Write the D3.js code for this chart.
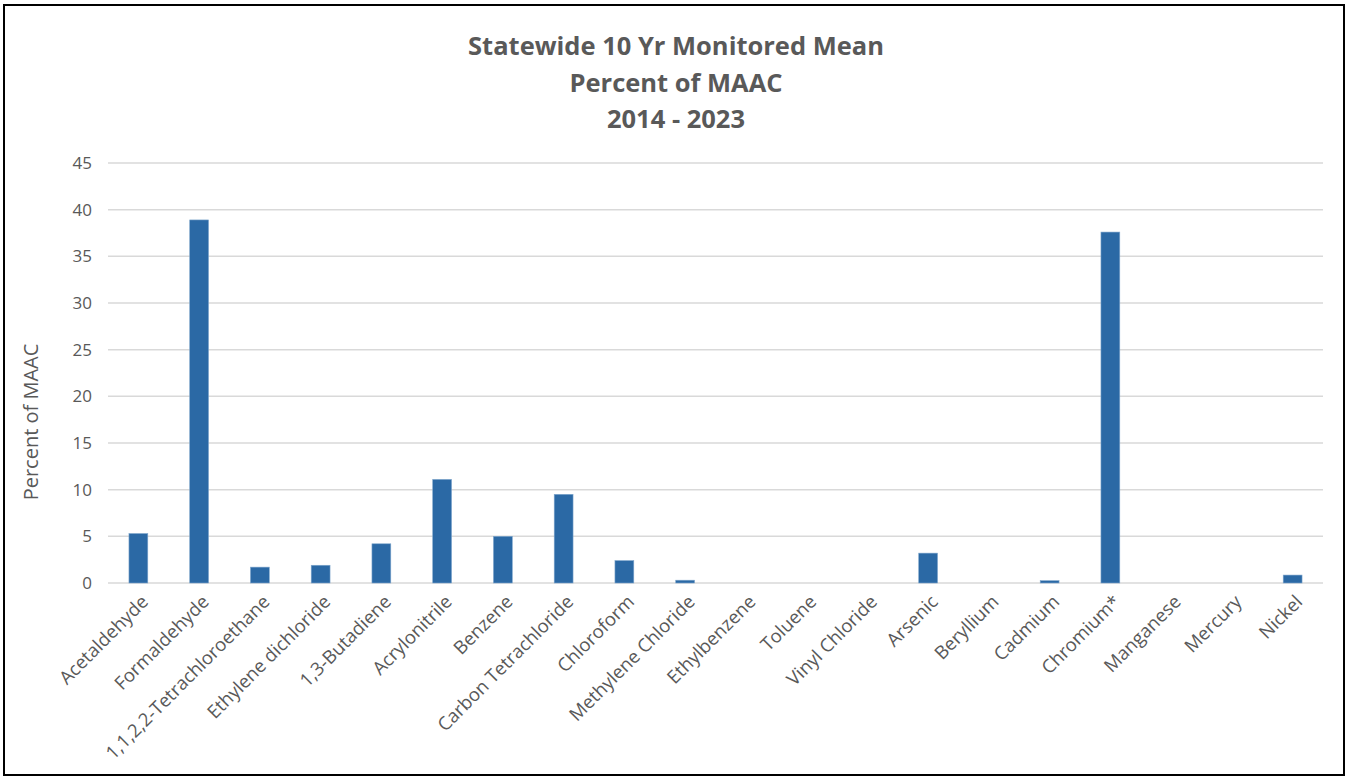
<!DOCTYPE html>
<html>
<head>
<meta charset="utf-8" />
<style>
body { margin: 0; background: #fff; }
svg { display: block; }
.axis path, .axis line { display: none; }
</style>
<script src="https://cdnjs.cloudflare.com/ajax/libs/d3/7.8.5/d3.min.js"></script>
</head>
<body>
<div id="chart"></div>
<script>
// chart data
var pollutants = ['Acetaldehyde', 'Formaldehyde', '1,1,2,2-Tetrachloroethane', 'Ethylene dichloride',
  '1,3-Butadiene', 'Acrylonitrile', 'Benzene', 'Carbon Tetrachloride', 'Chloroform',
  'Methylene Chloride', 'Ethylbenzene', 'Toluene', 'Vinyl Chloride', 'Arsenic', 'Beryllium',
  'Cadmium', 'Chromium*', 'Manganese', 'Mercury', 'Nickel'];
var percentOfMaac = [5.3, 38.9, 1.7, 1.9, 4.2, 11.1, 5.0, 9.5, 2.4, 0.3, 0, 0, 0, 3.2, 0, 0.25, 37.6, 0, 0, 0.85];
var yTicks = [0, 5, 10, 15, 20, 25, 30, 35, 40, 45];
var titleLines = ['Statewide 10 Yr Monitored Mean', 'Percent of MAAC', '2014 - 2023'];

var FONT = '"Open Sans", sans-serif';
var W = 1350, H = 778;
var margin = { top: 163, right: 27, bottom: 195, left: 108 },
    width = W - margin.left - margin.right,
    height = H - margin.top - margin.bottom;

var svg = d3.select('#chart').append('svg')
  .attr('width', W)
  .attr('height', H);

// outer frame
svg.append('rect')
  .attr('x', 4).attr('y', 5)
  .attr('width', 1340).attr('height', 770)
  .attr('fill', 'none')
  .attr('stroke', '#000')
  .attr('stroke-width', 2);

var g = svg.append('g')
  .attr('transform', 'translate(' + margin.left + ',' + margin.top + ')');

var xScale = d3.scaleBand()
  .domain(pollutants)
  .range([0, width])
  .paddingInner(0.69)
  .paddingOuter(0.345);

var yScale = d3.scaleLinear()
  .domain([0, 45])
  .range([height, 0]);

// gridlines
g.selectAll('.grid')
  .data(yTicks)
  .enter().append('line')
  .attr('x1', 0).attr('x2', width)
  .attr('y1', function(d) { return yScale(d) })
  .attr('y2', function(d) { return yScale(d) })
  .attr('stroke', '#d9d9d9')
  .attr('stroke-width', 1.5);

// y axis labels
var yAxis = d3.axisLeft(yScale).tickValues(yTicks).tickSize(0).tickPadding(16);
g.append('g')
  .attr('class', 'axis')
  .call(yAxis)
  .selectAll('text')
  .attr('fill', '#595959')
  .style('font-family', FONT)
  .style('font-size', '17px');

// bars
g.selectAll('.bar')
  .data(percentOfMaac)
  .enter().append('rect')
  .attr('class', 'bar')
  .attr('x', function(d, i) { return xScale(pollutants[i]) })
  .attr('y', function(d) { return yScale(d) })
  .attr('width', xScale.bandwidth())
  .attr('height', function(d) { return height - yScale(d) })
  .attr('fill', '#2b69a5')
  .attr('stroke', '#7ea6cc')
  .attr('stroke-width', 0.6);

// x axis labels, rotated
var xAxis = d3.axisBottom(xScale).tickSize(0).tickPadding(0);
g.append('g')
  .attr('class', 'axis')
  .attr('transform', 'translate(0,' + height + ')')
  .call(xAxis)
  .selectAll('text')
  .attr('fill', '#595959')
  .style('font-family', FONT)
  .style('font-size', '18.5px')
  .style('text-anchor', 'end')
  .attr('dy', null)
  .attr('transform', 'translate(11,20) rotate(-45)');

// y axis title
svg.append('text')
  .attr('text-anchor', 'middle')
  .attr('transform', 'translate(38,422) rotate(-90)')
  .attr('fill', '#595959')
  .style('font-family', FONT)
  .style('font-size', '20px')
  .text('Percent of MAAC');

// title
svg.selectAll('.title')
  .data(titleLines)
  .enter().append('text')
  .attr('class', 'title')
  .attr('text-anchor', 'middle')
  .attr('x', 676)
  .attr('y', function(d, i) { return 55 + i * 36.5 })
  .attr('fill', '#595959')
  .style('font-family', FONT)
  .style('font-weight', 'bold')
  .style('font-size', '25.5px')
  .text(function(d) { return d });
</script>
</body>
</html>
